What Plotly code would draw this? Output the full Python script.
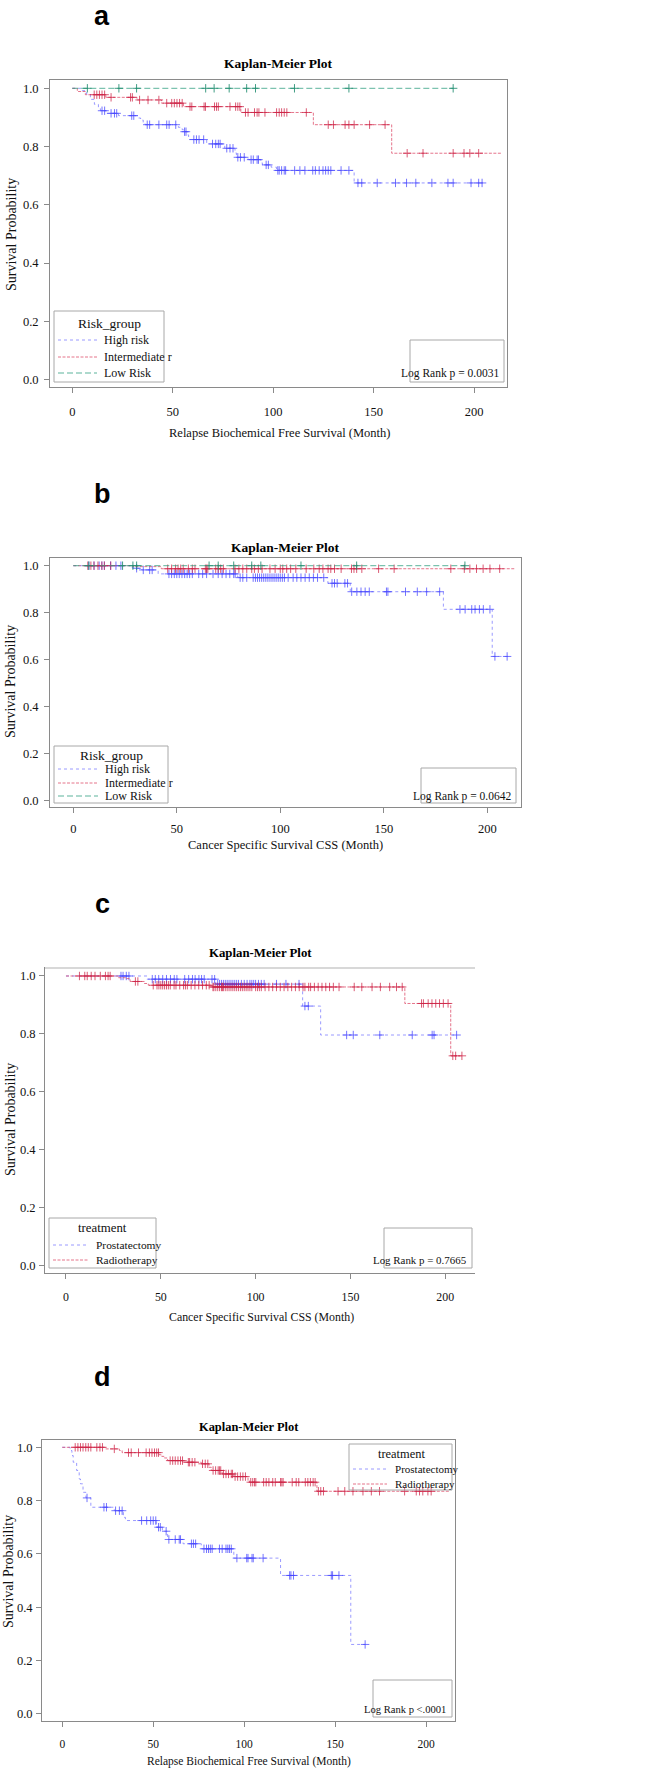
import numpy as np
import plotly.graph_objects as go

W, H = 669, 1771

# ======================= DATA =======================
# ---- Panel a : Relapse Biochemical Free Survival by Risk_group ----
a_high_event_t = [5, 7, 9, 11, 13, 14, 17, 23, 32.8, 34, 35.3, 36.2, 52.8, 54.7, 55.3, 57.3, 57.9,
                  66.9, 75.9, 81, 81.7, 87.5, 93.9, 94.6, 99, 101.7, 140.3]
a_high_event_s = [0.992, 0.98, 0.962, 0.945, 0.93, 0.923, 0.914, 0.906, 0.898, 0.891, 0.883, 0.875,
                  0.866, 0.858, 0.851, 0.84, 0.824, 0.809, 0.794, 0.778, 0.763, 0.755, 0.744, 0.737,
                  0.729, 0.718, 0.675]
a_high_cens_t = [14.8, 16.1, 19.3, 21, 22.1, 29.6, 30.6, 37.3, 38.5, 43.1, 47, 48.2, 51.5, 55.9, 56.6,
                 60.5, 61.8, 63.1, 65.4, 69.8, 71.4, 72.7, 73.6, 76.9, 78.5, 80, 82.4, 83.7, 85.6, 89,
                 90.1, 92, 92.7, 96.5, 97.6, 102.3, 103, 104.2, 105.5, 106.2, 110.7, 113.3, 115.8,
                 119.7, 121, 122.9, 124.8, 126.1, 127.4, 128.7, 133.8, 137.7, 142.2, 144.1, 151.8,
                 160.9, 166.4, 171, 179, 187, 189.6, 198.5, 202.3, 204]
a_high_last_t = 204

a_int_event_t = [2.5, 6.5, 16.7, 32.2, 44.4, 55.3, 83.9, 120, 159]
a_int_event_s = [0.989, 0.978, 0.969, 0.96, 0.949, 0.937, 0.917, 0.875, 0.777]
a_int_cens_t = [10.9, 12.2, 13.5, 14.8, 16.1, 19.3, 29, 29.9, 33.5, 37.7, 43.1, 47, 49.5, 50.8, 52.1,
                53.4, 54.7, 58.6, 59.5, 65.6, 66.3, 70.8, 71.8, 72.7, 78.5, 81.3, 82.4, 83.4, 86.2,
                87.5, 90.7, 92, 92.9, 95.9, 101.7, 103, 104.2, 105.5, 106.8, 116.5, 127.4, 130, 135.8,
                137.7, 140.3, 148, 155.7, 166.7, 174.6, 189.6, 195, 197.9, 202.3]
a_int_last_t = 213.5

a_low_event_t = []
a_low_event_s = []
a_low_cens_t = [7.5, 23.2, 32, 66.4, 70.6, 78.1, 86.8, 91.2, 110.6, 137.7, 189.6]
a_low_last_t = 189.6

# ---- Panel b : Cancer Specific Survival by Risk_group ----
b_high_event_t = [28.5, 30, 33, 41, 79, 79.5, 123, 133.8, 178.8, 202.4]
b_high_event_s = [0.991, 0.989, 0.982, 0.965, 0.956, 0.949, 0.925, 0.889, 0.814, 0.613]
b_high_cens_t = [7.5, 10, 12.5, 13.8, 15, 18, 20.6, 23, 30.6, 33.8, 36.9, 38.1, 46.2, 47.5, 48.8, 50,
                 51.2, 52.5, 53.8, 55, 56.2, 57.5, 60.6, 62.5, 64.4, 67.5, 70, 71.9, 73.8, 75.6, 77.5,
                 78.2, 80.6, 81.9, 83.8, 86.9, 88, 89, 90, 91, 92, 93, 94, 95, 96, 97, 98, 99, 100,
                 101, 102, 103.8, 106.2, 108, 110, 112, 114, 116, 118, 121, 125, 126.2, 127.5, 131.2,
                 132.5, 134.5, 137, 139, 141, 143, 151.3, 152, 160.5, 166.2, 170.7, 177, 186.8, 189.3,
                 192.5, 194.1, 196.2, 198.1, 201.3, 203.7, 209.6]
b_high_last_t = 210

b_int_event_t = [28.8, 42.5]
b_int_event_s = [0.996, 0.987]
b_int_cens_t = [7, 8.5, 10, 11.9, 13.8, 15, 18.1, 45.6, 47.5, 49.4, 50.6, 51.9, 53.1, 55.6, 57.5, 58.8,
                63.8, 64.4, 65, 68.8, 70, 71.2, 72.5, 78.1, 80, 81.9, 83.8, 86.2, 87.5, 89.4, 91.2, 95,
                97.5, 100, 101.2, 103.1, 105, 107.5, 112.5, 116.2, 118.8, 120.6, 123.1, 124.4, 126.2,
                129.4, 134.4, 135.6, 136.9, 139.4, 147.5, 155, 182.4, 188.9, 191.6, 194.8, 198,
                201.3, 206]
b_int_last_t = 213.4

b_low_event_t = []
b_low_event_s = []
b_low_cens_t = [7.5, 23.8, 28.8, 30.6, 65.6, 70, 77.5, 86.2, 90.6, 110, 136.9, 189.2]
b_low_last_t = 189.2

# ---- Panel c : Cancer Specific Survival by treatment ----
c_pro_event_t = [42.7, 79, 124.8, 134.3]
c_pro_event_s = [0.989, 0.972, 0.896, 0.796]
c_pro_cens_t = [29, 30.1, 31.8, 33.2, 45.5, 47.1, 48.9, 51, 53, 55.1, 57.1, 58.5, 62.6, 64.7, 66.7,
                68.1, 70.1, 71.5, 72.9, 77, 78.4, 80, 81, 82, 83, 84, 85, 86, 87, 88, 89, 90, 91,
                92.5, 94, 95.5, 97, 98, 99, 100, 101.5, 103, 104.5, 111, 116, 122.9, 126, 127.8, 148,
                151.5, 165.5, 182.6, 193.1, 194.1, 206]
c_pro_last_t = 206

c_rad_event_t = [27.7, 31.8, 33.8, 41.4, 43.4, 77, 178.7, 202.9]
c_rad_event_s = [0.994, 0.991, 0.981, 0.974, 0.968, 0.962, 0.905, 0.724]
c_rad_cens_t = [7.1, 9.9, 11.2, 13.3, 15.3, 18.1, 20.8, 22.2, 23.3, 36.6, 37.9, 46, 48, 49, 50, 51, 52,
                53, 54, 55, 57, 58, 60, 62, 63, 64, 66, 68, 70, 72, 74, 75.5, 77.5, 78, 79, 80, 81, 82,
                82.5, 83, 84, 85, 86, 87, 88, 89, 90, 91, 92, 93, 94, 95, 96, 97, 98, 100, 101, 102,
                103, 105, 107, 109, 111, 113, 115, 117, 119, 121, 123, 125, 126, 128, 129, 131, 133,
                135, 137, 139, 141, 144, 152, 156, 161.4, 165.8, 170.7, 174.3, 177.3, 187.5, 188.5,
                191, 193, 195, 197, 199, 201.5, 204, 205.5, 208.8]
c_rad_last_t = 209

# ---- Panel d : Relapse Biochemical Free Survival by treatment ----
d_pro_event_t = [4.3, 5.3, 6, 7.9, 9.3, 10, 11.4, 13, 15.7, 28.6, 33.6, 34.7, 51.7, 52.1, 55, 57.9,
                 66.4, 76.4, 94.3, 120, 158.6]
d_pro_event_s = [0.988, 0.969, 0.944, 0.913, 0.881, 0.863, 0.831, 0.81, 0.775, 0.762, 0.737, 0.725,
                 0.71, 0.70, 0.685, 0.654, 0.638, 0.619, 0.584, 0.519, 0.26]
d_pro_cens_t = [13.6, 22.9, 24.3, 29.3, 31.4, 32.9, 43.6, 46.4, 48.6, 50, 51.4, 52.9, 53.9, 57.1, 58.6,
                62.1, 64.3, 65, 71, 72.1, 73.3, 77.9, 79.3, 80.4, 81.4, 82.4, 86.4, 87.9, 90, 91, 91.9,
                92.9, 96, 101.4, 102.1, 104.3, 105, 110.4, 125, 125.7, 127.1, 147.9, 148.6, 152.1,
                166.5]
d_pro_last_t = 166.5

d_rad_event_t = [23.6, 31.4, 32.9, 53.3, 54.7, 56.1, 57.9, 66.4, 76.4, 80.7, 81.9, 87.9, 94.3, 102.1,
                 102.9, 140]
d_rad_event_s = [0.994, 0.988, 0.98, 0.972, 0.966, 0.96, 0.95, 0.944, 0.938, 0.925, 0.913, 0.90,
                 0.89, 0.875, 0.869, 0.835]
d_rad_cens_t = [7.1, 8.6, 10, 11.4, 12.9, 14.3, 15.7, 19, 20.7, 22.1, 28.6, 36.4, 37.9, 41.9, 46.1,
                47.9, 49.3, 50.7, 51.9, 52.9, 59.3, 60.7, 62.1, 63.6, 65, 66.1, 69.3, 70, 71.4, 72.9,
                77.1, 78.6, 80, 82.9, 84.3, 85.7, 86.4, 87.1, 88.6, 90, 91.4, 92.9, 93.6, 95, 96.4,
                97.9, 99.3, 100.7, 103.6, 104.7, 105.7, 106.4, 110.7, 112.1, 113.6, 115.7, 117.1, 120,
                120.7, 121.4, 126.4, 128.6, 130, 133.6, 135, 136.4, 137.9, 139, 140.8, 142.1, 143.6,
                151.6, 155.3, 159.8, 165.3, 169.9, 174.4, 188.2, 194.6, 196.4, 198.2, 201, 202.8]
d_rad_last_t = 213.2

# ---- text ----
panel_letters = ["a", "b", "c", "d"]
plot_title = "Kaplan-Meier Plot"
x_titles = ["Relapse Biochemical Free Survival (Month)", "Cancer Specific Survival CSS (Month)",
            "Cancer Specific Survival CSS (Month)", "Relapse Biochemical Free Survival (Month)"]
y_title = "Survival Probability"
legend_titles = ["Risk_group", "Risk_group", "treatment", "treatment"]
risk_names = ["High risk", "Intermediate r", "Low Risk"]
treat_names = ["Prostatectomy", "Radiotherapy"]
logrank_texts = ["Log Rank p = 0.0031", "Log Rank p = 0.0642", "Log Rank p = 0.7665", "Log Rank p <.0001"]
x_ticks = [0, 50, 100, 150, 200]
y_ticks = [0.0, 0.2, 0.4, 0.6, 0.8, 1.0]

# ======================= STYLE / LAYOUT =======================
STYLE = {
    "blue": dict(line="rgba(120,120,255,0.75)", mark="rgba(70,70,255,0.75)", dash="dot"),
    "red": dict(line="rgba(220,70,100,0.75)", mark="rgba(205,35,70,0.75)", dash="3px,1.5px"),
    "green": dict(line="rgba(50,160,130,0.8)", mark="rgba(30,140,110,0.85)", dash="6px,3px"),
}
SERIF = "Liberation Serif, Times New Roman, serif"
SANS = "Liberation Sans, Arial, sans-serif"
AXC = "#8a8a8a"

panels = [
    dict(l=50, r=507, t=80, b=387, xr=[-11.1, 216.4], yr=[-0.0258, 1.0285], right=True,
         series=[(risk_names[0], "blue", a_high_event_t, a_high_event_s, a_high_cens_t, a_high_last_t),
                 (risk_names[1], "red", a_int_event_t, a_int_event_s, a_int_cens_t, a_int_last_t),
                 (risk_names[2], "green", a_low_event_t, a_low_event_s, a_low_cens_t, a_low_last_t)],
         letter_y=16.5, title_y=64, xlab_y=433, xlab_x=279, ylab_x=11, ylab_y=235, fs=1.0,
         ystand=3, xstand=8,
         leg=dict(box=(54, 311, 164, 382), tx=109.5, ty=323, lx=(58, 97), txx=102, ys=(340, 357, 373)),
         lr=dict(box=(410, 340, 504, 382), x=501, y=374)),
    dict(l=50, r=521, t=558, b=807, xr=[-11.26, 216.3], yr=[-0.029, 1.0328], right=True,
         series=[(risk_names[0], "blue", b_high_event_t, b_high_event_s, b_high_cens_t, b_high_last_t),
                 (risk_names[1], "red", b_int_event_t, b_int_event_s, b_int_cens_t, b_int_last_t),
                 (risk_names[2], "green", b_low_event_t, b_low_event_s, b_low_cens_t, b_low_last_t)],
         letter_y=494, title_y=547, xlab_y=845, xlab_x=285, ylab_x=10, ylab_y=682, fs=1.0,
         ystand=3, xstand=5,
         leg=dict(box=(54, 746, 168, 803), tx=111.5, ty=755, lx=(58, 98), txx=103, ys=(769, 783, 796)),
         lr=dict(box=(421, 768, 516, 803), x=513, y=796)),
    dict(l=45, r=475, t=968, b=1273, xr=[-11.07, 215.7], yr=[-0.0266, 1.0276], right=False,
         series=[(treat_names[0], "blue", c_pro_event_t, c_pro_event_s, c_pro_cens_t, c_pro_last_t),
                 (treat_names[1], "red", c_rad_event_t, c_rad_event_s, c_rad_cens_t, c_rad_last_t)],
         letter_y=904, title_y=953, xlab_y=1317, xlab_x=261, ylab_x=10, ylab_y=1120, fs=0.95,
         ystand=1, xstand=8,
         leg=dict(box=(49, 1218, 156, 1268), tx=102.5, ty=1228, lx=(53, 88), txx=94, ys=(1245, 1260)),
         lr=dict(box=(384, 1228, 472, 1268), x=469, y=1260)),
    dict(l=42, r=455, t=1440, b=1721, xr=[-11.15, 215.9], yr=[-0.0274, 1.0274], right=True,
         series=[(treat_names[0], "blue", d_pro_event_t, d_pro_event_s, d_pro_cens_t, d_pro_last_t),
                 (treat_names[1], "red", d_rad_event_t, d_rad_event_s, d_rad_cens_t, d_rad_last_t)],
         letter_y=1377, title_y=1427, xlab_y=1761, xlab_x=249, ylab_x=8, ylab_y=1572, fs=0.92,
         ystand=1, xstand=7,
         leg=dict(box=(349, 1444, 452, 1490), tx=401, ty=1454, lx=(353, 387), txx=393, ys=(1469, 1484)),
         lr=dict(box=(373, 1680, 452, 1717), x=448, y=1709)),
]


def X(px):
    return px / W


def Y(py):
    return 1 - py / H


def surv_at(times, ev_t, ev_s):
    ev_t = np.asarray(ev_t, float)
    vals = np.concatenate([[1.0], np.asarray(ev_s, float)])
    idx = np.searchsorted(ev_t, np.asarray(times, float), side="right")
    return vals[idx]


fig = go.Figure()
shapes, annots = [], []
layout_axes = {}

for i, p in enumerate(panels, start=1):
    xa, ya = ("x" if i == 1 else f"x{i}"), ("y" if i == 1 else f"y{i}")
    fs = p["fs"]
    layout_axes["xaxis" if i == 1 else f"xaxis{i}"] = dict(
        domain=[X(p["l"]), X(p["r"])], range=p["xr"], anchor=ya, tickvals=x_ticks,
        ticks="outside", ticklen=5, tickcolor=AXC, showline=True, linecolor=AXC, linewidth=1,
        mirror=True, showgrid=False, zeroline=False, ticklabelstandoff=p["xstand"],
        tickfont=dict(family=SERIF, size=12.5 * fs, color="#111"))
    layout_axes["yaxis" if i == 1 else f"yaxis{i}"] = dict(
        domain=[Y(p["b"]), Y(p["t"])], range=p["yr"], anchor=xa, tickvals=y_ticks, tickformat=".1f",
        ticks="outside", ticklen=5, tickcolor=AXC, showline=True, linecolor=AXC, linewidth=1,
        mirror=p["right"], showgrid=False, zeroline=False, ticklabelstandoff=p["ystand"],
        tickfont=dict(family=SERIF, size=12.5, color="#111"))

    for name, col, ev_t, ev_s, cens_t, last_t in p["series"]:
        st = STYLE[col]
        xs = [0] + list(ev_t) + [last_t]
        ys = [1.0] + list(ev_s) + [ev_s[-1] if len(ev_s) else 1.0]
        fig.add_trace(go.Scatter(x=xs, y=ys, mode="lines", line=dict(shape="hv", color=st["line"],
                                 width=1, dash=st["dash"]), xaxis=xa, yaxis=ya, name=name,
                                 showlegend=False, hoverinfo="skip"))
        fig.add_trace(go.Scatter(x=cens_t, y=surv_at(cens_t, ev_t, ev_s), mode="markers",
                                 marker=dict(symbol="cross-thin", size=6,
                                             line=dict(color=st["mark"], width=1)),
                                 xaxis=xa, yaxis=ya, name=name + " censored", showlegend=False))

    # panel letter
    annots.append(dict(x=X(102), y=Y(p["letter_y"]), xref="paper", yref="paper",
                       text=f"<b>{panel_letters[i-1]}</b>", showarrow=False, xanchor="center",
                       yanchor="middle", borderpad=0, font=dict(family=SANS, size=27, color="#000")))
    # title
    annots.append(dict(x=X((p["l"] + p["r"]) / 2), y=Y(p["title_y"]), xref="paper", yref="paper",
                       text=f"<b>{plot_title}</b>", showarrow=False, xanchor="center", yanchor="middle",
                       font=dict(family=SERIF, size=13.5 * fs, color="#000")))
    # axis titles
    annots.append(dict(x=X(p["xlab_x"]), y=Y(p["xlab_y"]), xref="paper", yref="paper", text=x_titles[i-1],
                       showarrow=False, xanchor="center", yanchor="middle",
                       font=dict(family=SERIF, size=12.5 * fs, color="#111")))
    annots.append(dict(x=X(p["ylab_x"]), y=Y(p["ylab_y"]), xref="paper", yref="paper", text=y_title,
                       showarrow=False, xanchor="center", yanchor="middle", textangle=-90,
                       font=dict(family=SERIF, size=14, color="#111")))
    # legend (drawn manually)
    lg = p["leg"]
    bx = lg["box"]
    shapes.append(dict(type="rect", xref="paper", yref="paper", x0=X(bx[0]), x1=X(bx[2]),
                       y0=Y(bx[3]), y1=Y(bx[1]), line=dict(color="#a8a8a8", width=1),
                       fillcolor="rgba(255,255,255,0)", layer="above"))
    annots.append(dict(x=X(lg["tx"]), y=Y(lg["ty"]), xref="paper", yref="paper", text=legend_titles[i-1],
                       showarrow=False, xanchor="center", yanchor="middle",
                       font=dict(family=SERIF, size=13.5 * fs, color="#111")))
    for (name, col, *_), yy in zip(p["series"], lg["ys"]):
        st = STYLE[col]
        shapes.append(dict(type="line", xref="paper", yref="paper", x0=X(lg["lx"][0]), x1=X(lg["lx"][1]),
                           y0=Y(yy), y1=Y(yy), line=dict(color=st["line"], width=1, dash=st["dash"])))
        annots.append(dict(x=X(lg["txx"]), y=Y(yy), xref="paper", yref="paper", text=name,
                           showarrow=False, xanchor="left", yanchor="middle",
                           font=dict(family=SERIF, size=12 * fs, color="#111")))
    # log-rank box
    lr = p["lr"]
    bx = lr["box"]
    shapes.append(dict(type="rect", xref="paper", yref="paper", x0=X(bx[0]), x1=X(bx[2]),
                       y0=Y(bx[3]), y1=Y(bx[1]), line=dict(color="#a8a8a8", width=1),
                       fillcolor="rgba(255,255,255,0)"))
    annots.append(dict(x=X(lr["x"]), y=Y(lr["y"]), xref="paper", yref="paper", text=logrank_texts[i-1],
                       showarrow=False, xanchor="right", yanchor="middle",
                       font=dict(family=SERIF, size=11.5 * fs, color="#111")))

# light top border in panel c
pc = panels[2]
shapes.append(dict(type="line", xref="paper", yref="paper", x0=X(pc["l"]), x1=X(pc["r"]),
                   y0=Y(pc["t"]), y1=Y(pc["t"]), line=dict(color="#d8d8d8", width=2)))

fig.update_layout(width=W, height=H, margin=dict(l=0, r=0, t=0, b=0, pad=0), autosize=False,
                  paper_bgcolor="white", plot_bgcolor="white", showlegend=False,
                  shapes=shapes, annotations=annots, **layout_axes)

fig.write_html("out.html")
